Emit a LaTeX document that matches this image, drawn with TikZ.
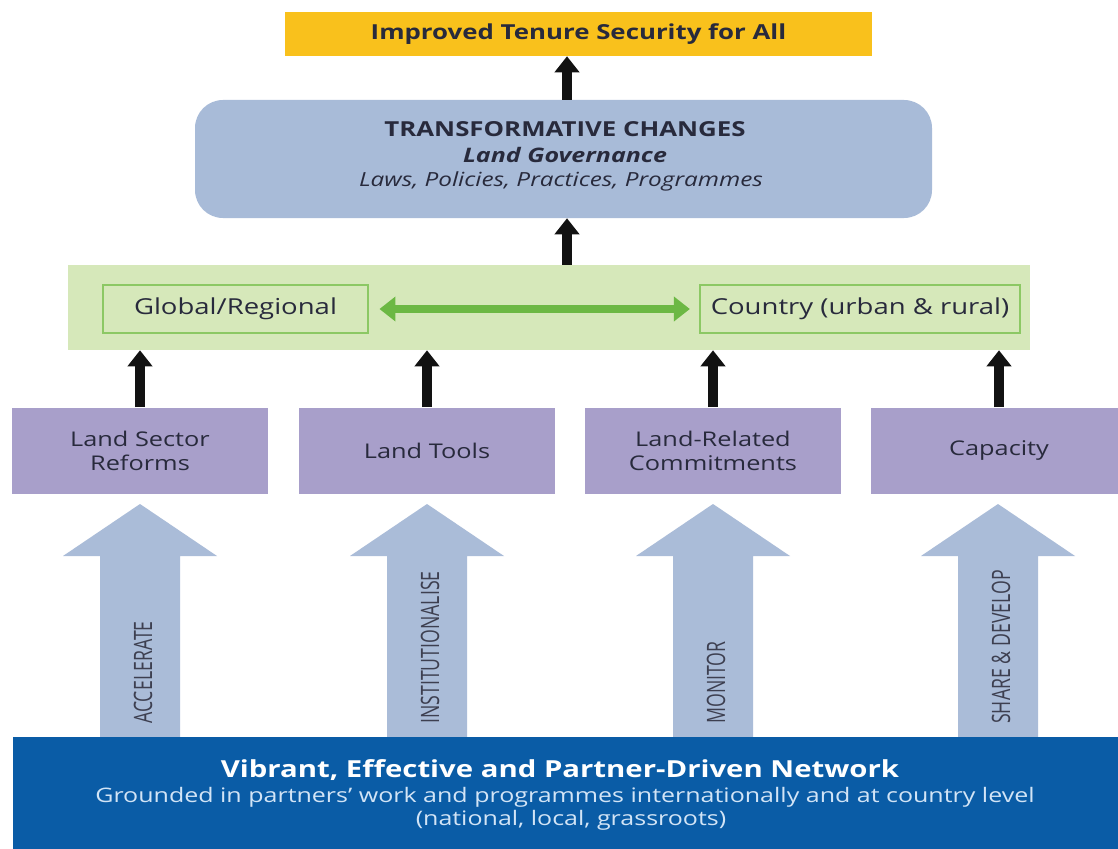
\documentclass[tikz,border=0pt]{standalone}
\usepackage{fontspec}
\setmainfont{Open Sans}[FakeStretch=1.25]
\newfontfamily\condfont{Open Sans}[FakeStretch=0.7]
\usetikzlibrary{arrows.meta}
\definecolor{goalyellow}{RGB}{249,193,28}
\definecolor{tcblue}{RGB}{168,187,216}
\definecolor{lvlgreen}{RGB}{214,232,186}
\definecolor{lvlborder}{RGB}{140,200,100}
\definecolor{dblgreen}{RGB}{108,184,68}
\definecolor{areapurple}{RGB}{168,159,202}
\definecolor{bigarrowblue}{RGB}{170,188,216}
\definecolor{netblue}{RGB}{10,92,166}
\definecolor{subwhite}{RGB}{210,228,246}
\definecolor{darktext}{RGB}{40,42,60}
\definecolor{arrowblack}{RGB}{18,18,18}
\tikzset{
  box/.style={rectangle, inner sep=0pt, text=darktext, align=center},
  goalbox/.style={box, fill=goalyellow, minimum width=440.25pt, minimum height=33pt, font=\bfseries\fontsize{15.5}{18}\selectfont},
  tcbox/.style={box, fill=tcblue, rounded corners=21pt, minimum width=552.75pt, minimum height=88.5pt},
  tctxt/.style={inner sep=0pt, text=darktext},
  lvlbox/.style={box, fill=lvlgreen, minimum width=721.5pt, minimum height=63.75pt},
  innerbox/.style={box, fill=lvlgreen, draw=lvlborder, line width=1.2pt, minimum height=36pt, font=\fontsize{16.5}{19}\selectfont},
  areabox/.style={box, fill=areapurple, minimum width=192pt, minimum height=64.5pt, font=\fontsize{15.2}{18}\selectfont},
  netbox/.style={box, fill=netblue, minimum width=832.5pt, minimum height=90pt},
  nettxt/.style={inner sep=0pt, text=subwhite, font=\fontsize{15}{18}\selectfont},
  blk/.style={draw=arrowblack, line width=7.5pt, -{Triangle[width=18pt,length=12pt]}},
  dbl/.style={draw=dblgreen, line width=6.5pt, {Triangle[width=18pt,length=12pt]}-{Triangle[width=18pt,length=12pt]}},
  biglabel/.style={rotate=90, anchor=west, inner sep=0pt, text=darktext!90, font=\condfont\fontsize{19}{22}\selectfont},
}
\begin{document}
\begin{tikzpicture}[x=0.75pt,y=-0.75pt]
\path[use as bounding box, fill=white] (0,0) rectangle (1118,849);

% big light-blue arrows (behind the network box)
\foreach \cx/\lab [count=\i] in {140/ACCELERATE, 427/INSTITUTIONALISE, 713/MONITOR, 998/SHARE \& DEVELOP}{
  \fill[bigarrowblue] (\cx-40,745) -- (\cx-40,556) -- (\cx-77,556) -- (\cx,504) -- (\cx+77,556) -- (\cx+40,556) -- (\cx+40,745) -- cycle;
  \node[biglabel] (lab\i) at (\cx+3,724) {\lab};
}

% network box
\node[netbox] (net) at (568,797) {};
\node[nettxt, text=white, font=\bfseries\fontsize{17.6}{20}\selectfont] (nettitle) at (560,770) {Vibrant, Effective and Partner-Driven Network};
\node[nettxt] (netsub) at (565,797) {Grounded in partners' work and programmes internationally and at country level};
\node[nettxt] (netsub2) at (571,820) {(national, local, grassroots)};

% goal
\node[goalbox] (goal) at (578.5,34) {Improved Tenure Security for All};

% transformative changes
\node[tcbox] (tc) at (563.5,159) {};
\node[tctxt, font=\bfseries\fontsize{15.5}{18}\selectfont] (tc1) at (565,129) {TRANSFORMATIVE CHANGES};
\node[tctxt, font=\bfseries\itshape\fontsize{15}{18}\selectfont] (tc2) at (565,155) {Land Governance};
\node[tctxt, font=\itshape\fontsize{14.6}{18}\selectfont] (tc3) at (561,181) {Laws, Policies, Practices, Programmes};

% levels
\node[lvlbox] (lvl) at (549,307.5) {};
\node[innerbox, minimum width=198.75pt] (glob) at (235.5,309) {Global/Regional};
\node[innerbox, minimum width=240pt] (ctry) at (860,309) {Country (urban \& rural)};
\draw[dbl] ([xshift=8pt]glob.east) -- ([xshift=-7pt]ctry.west);

% areas
\node[areabox] (p1) at (140,450.5) {Land Sector\\Reforms};
\node[areabox] (p2) at (427,450.5) {Land Tools};
\node[areabox] (p3) at (713,450.5) {Land-Related\\Commitments};
\node[areabox] (p4) at (999,450.5) {Capacity};

% black arrows
\coordinate (ax) at (567,0);
\draw[blk] (tc.north -| ax) -- (goal.south -| ax);
\draw[blk] (lvl.north -| ax) -- (tc.south -| ax);
\foreach \p in {p1,p2,p3,p4}{
  \draw[blk] (\p.north) -- (lvl.south -| \p.north);
}
\end{tikzpicture}
\end{document}
